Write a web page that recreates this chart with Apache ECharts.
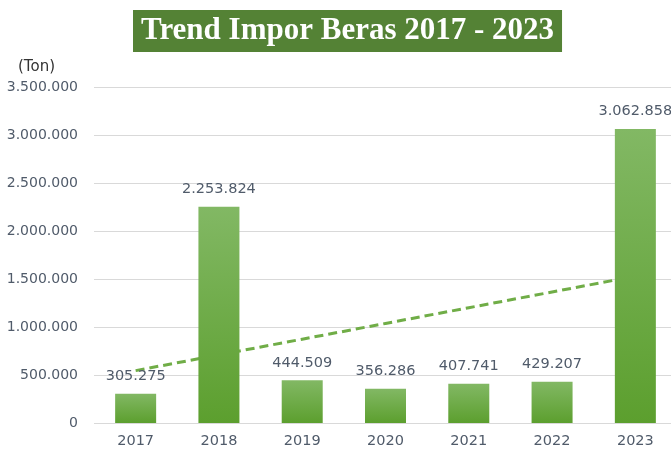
<!DOCTYPE html>
<html>
<head>
<meta charset="utf-8">
<script src="https://cdn.jsdelivr.net/npm/echarts@6/dist/echarts.min.js"></script>
<style>
  html, body { margin: 0; padding: 0; background: #fff; }
  #chart { width: 671px; height: 452px; }
</style>
</head>
<body>
<div id="chart"></div>
<script>
// data
const years = ['2017', '2018', '2019', '2020', '2021', '2022', '2023']
const imports = [305275, 2253824, 444509, 356286, 407741, 429207, 3062858]
// linear trendline values (as drawn)
const trend = [545663, 709475, 873288, 1037100, 1200912, 1364725, 1528537]

// 1.234.567 style
const fmt = (v) => String(Math.round(v)).replace(/\B(?=(\d{3})+(?!\d))/g, '.')

const myChart = echarts.init(document.getElementById('chart'))
const textColor = '#505b6a'
const font = 'DejaVu Sans'

const option = {
  animation: false,
  title: {
    text: 'Trend Impor Beras 2017 - 2023',
    left: 133,
    top: 10,
    backgroundColor: '#548235',
    padding: [5, 8, 5, 8],
    textStyle: {
      color: '#fff',
      fontFamily: 'Liberation Serif',
      fontWeight: 'bold',
      fontSize: 31,
      lineHeight: 32,
    },
  },
  grid: {
    left: 94,
    top: 87,
    width: 583,
    height: 336,
    outerBoundsMode: 'none',
  },
  xAxis: {
    type: 'category',
    data: years,
    axisLine: { show: false },
    axisTick: { show: false },
    axisLabel: {
      color: textColor,
      fontFamily: font,
      fontSize: 14.5,
      margin: 11,
    },
  },
  yAxis: {
    type: 'value',
    name: '(Ton)',
    nameLocation: 'end',
    nameGap: 12,
    nameTextStyle: {
      color: '#333',
      fontFamily: font,
      fontSize: 15,
      align: 'center',
      padding: [0, 0, 0, -115],
    },
    min: 0,
    max: 3500000,
    interval: 500000,
    axisLine: { show: false },
    axisTick: { show: false },
    splitLine: { lineStyle: { color: '#d9d9d9', width: 1 } },
    axisLabel: {
      color: textColor,
      fontFamily: font,
      fontSize: 14,
      margin: 16,
      formatter: fmt,
    },
  },
  series: [
    {
      type: 'line',
      data: trend,
      showSymbol: false,
      lineStyle: { color: '#70ad47', width: 3, type: [9, 5] },
      z: 1,
    },
    {
      type: 'bar',
      data: imports,
      barWidth: 41,
      itemStyle: {
        color: new echarts.graphic.LinearGradient(0, 0, 0, 1, [
          { offset: 0, color: '#82b864' },
          { offset: 1, color: '#5c9f2e' },
        ]),
      },
      label: {
        show: true,
        position: 'top',
        distance: 10,
        color: textColor,
        fontFamily: font,
        fontSize: 14.5,
        formatter: (p) => fmt(p.value),
      },
      z: 3,
    },
  ],
}

myChart.setOption(option)
</script>
</body>
</html>
